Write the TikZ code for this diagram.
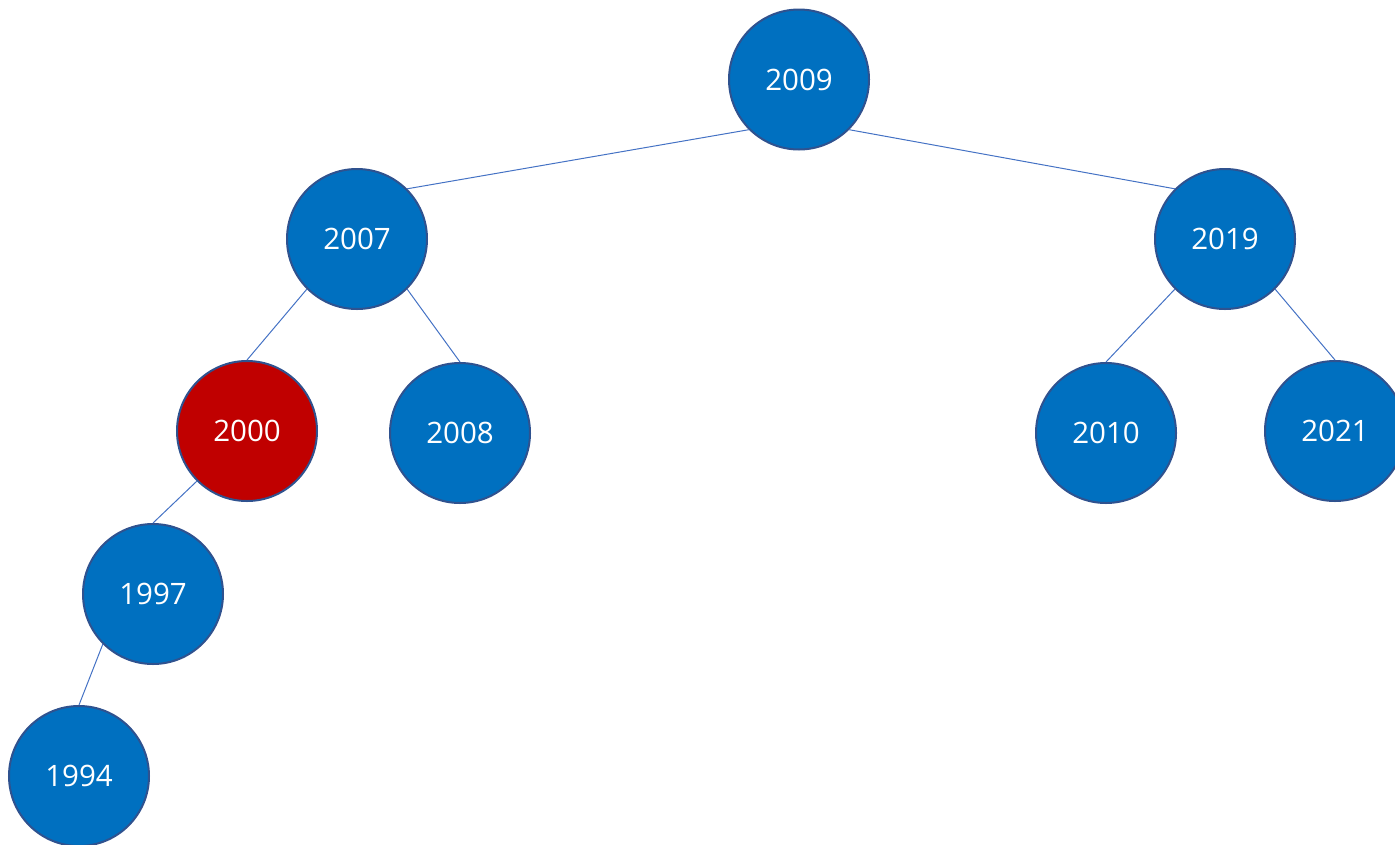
\documentclass[tikz,border=0pt]{standalone}
\usepackage{fontspec}
\setmainfont{Open Sans}
\definecolor{nodeblue}{HTML}{0070C0}
\definecolor{nodered}{HTML}{C00000}
\definecolor{rimblue}{HTML}{2F528F}
\definecolor{linkblue}{HTML}{4472C4}
\begin{document}
\begin{tikzpicture}[x=1pt,y=-1pt,
  yearnode/.style={circle,draw=rimblue,line width=2pt,fill=nodeblue,minimum size=140pt,inner sep=0pt,text=white,font=\fontsize{29.5}{34}\selectfont},
  rednode/.style={yearnode,fill=nodered},
  link/.style={draw=linkblue,line width=1pt}]
\useasboundingbox (0,0) rectangle (1395,844);
\node[yearnode] (n2009) at (799,79.5) {2009};
\node[yearnode] (n2007) at (357,239) {2007};
\node[yearnode] (n2019) at (1225,239) {2019};
\node[rednode]  (n2000) at (247,431) {2000};
\node[yearnode] (n2008) at (460,433) {2008};
\node[yearnode] (n2010) at (1106,433) {2010};
\node[yearnode] (n2021) at (1335,431) {2021};
\node[yearnode] (n1997) at (153,594) {1997};
\node[yearnode] (n1994) at (79,776) {1994};
\draw[link] (n2009.-135) -- (n2007.45);
\draw[link] (n2009.-45) -- (n2019.135);
\draw[link] (n2007.-135) -- (n2000.90);
\draw[link] (n2007.-45) -- (n2008.90);
\draw[link] (n2019.-135) -- (n2010.90);
\draw[link] (n2019.-45) -- (n2021.90);
\draw[link] (n2000.-135) -- (n1997.90);
\draw[link] (n1997.-135) -- (n1994.90);
\end{tikzpicture}
\end{document}
